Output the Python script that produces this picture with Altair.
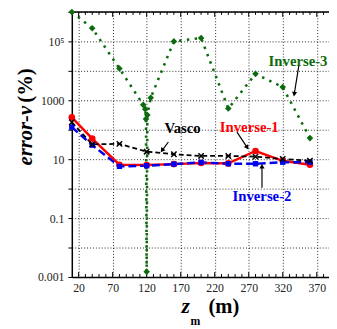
import altair as alt
import pandas as pd

# ---- data ----
z_m = [10, 40, 80, 120, 160, 200, 240, 280, 320, 360]
inverse_1 = [263, 50, 6.5, 6.3, 6.8, 7.4, 7.2, 19, 8.8, 6.5]
inverse_2 = [122, 30, 5.7, 6.0, 6.8, 7.8, 7.0, 7.0, 7.9, 7.9]
vasco = [179, 32, 33, 18, 14.7, 12.9, 12.9, 12.2, 10.2, 8.9]
inverse_3_z = [10, 40, 80, 115, 118, 119, 120, 121, 126, 160, 200, 240, 280, 320, 360]
inverse_3 = [1e6, 2.8e5, 1.2e4, 700, 500, 233, 0.0015, 316, 1220, 1.0e5, 1.3e5, 525, 7900, 2800, 52]

x_ticks = [20, 70, 120, 170, 220, 270, 320, 370]
y_ticks = [0.001, 0.01, 0.1, 1, 10, 100, 1000, 10000, 100000, 1000000]

label_names = ["Vasco", "Inverse-1", "Inverse-3", "Inverse-2"]
label_x = [172.8, 270.8, 342.5, 289.5]
label_y = [112, 126, 21544, 0.541]
label_colors = ["#000000", "#ff0000", "#0d6b0d", "#0000ee"]

arrow_x1 = [151.9, 252.8, 343.6, 289.5]
arrow_y1 = [38.3, 82.5, 14680, 1.08]
arrow_x2 = [143.3, 267.2, 337.1, 289.5]
arrow_y2 = [20.7, 26.1, 1711, 5.41]
arrow_angle = [217, 146, 189, 0]

RED, BLUE, BLACK, GREEN = "#ff0000", "#0000ee", "#000000", "#0d6b0d"
FONT = "Liberation Serif, Times New Roman, serif"

W, H = 262, 270
xscale = alt.Scale(domain=[10, 388], nice=False, zero=False)
yscale = alt.Scale(type="log", domain=[0.001, 1e6], nice=False)

y_label_expr = ("datum.value == 100000 ? '10\u2075' : (datum.value == 1000 ? '1000' : "
                "(datum.value == 10 ? '10' : (datum.value == 0.1 ? '0.1' : "
                "(datum.value == 0.001 ? '0.001' : ''))))")

xaxis = alt.Axis(values=x_ticks, title=None, grid=True, gridDash=[1, 2], gridColor="#000",
                 gridOpacity=0.85, gridWidth=1, tickSize=0, labelPadding=6, labelFont=FONT,
                 labelFontSize=12, labelColor="#222", domainColor="#000", domainWidth=1.5,
                 labelFlush=False)
yaxis = alt.Axis(values=y_ticks, title=None, grid=True, gridDash=[1, 2], gridColor="#000",
                 gridOpacity=0.85, gridWidth=1, tickSize=4, tickColor="#000", tickWidth=1,
                 labelPadding=4, labelFont=FONT, labelFontSize=12, labelColor="#222",
                 domainColor="#000", domainWidth=1.5, labelExpr=y_label_expr)


def X(f):
    return alt.X(f, type="quantitative", scale=xscale, axis=xaxis)


def Y(f):
    return alt.Y(f, type="quantitative", scale=yscale, axis=yaxis)


def series(xs, ys, color, width, dash, shape, size, filled=True, stroke_w=1):
    df = pd.DataFrame({"z": xs, "v": ys, "i": list(range(len(xs)))})
    kw = dict(color=color, strokeWidth=width)
    if dash:
        kw["strokeDash"] = dash
    line = alt.Chart(df).mark_line(**kw).encode(x=X("z"), y=Y("v"), order="i:Q")
    pts = alt.Chart(df).mark_point(shape=shape, size=size, color=color, filled=filled,
                                   opacity=1, strokeWidth=stroke_w).encode(x=X("z"), y=Y("v"))
    return line, pts


g_line, g_pts = series(inverse_3_z, inverse_3, GREEN, 2.6, [2.5, 5.5], "diamond", 45)
r_line, r_pts = series(z_m, inverse_1, RED, 2.5, None, "circle", 45)
b_line, b_pts = series(z_m, inverse_2, BLUE, 2.5, [8, 4], "square", 30)
k_line, k_pts = series(z_m, vasco, BLACK, 1.8, [5, 3], "M-1,-1L1,1M-1,1L1,-1", 30,
                       filled=False, stroke_w=1.5)

# inward minor/major ticks on bottom and top
tick_rows = []
for v in range(20, 390, 10):
    major = (v - 20) % 50 == 0
    f = 10 ** ((5 if major else 3) / 30)
    tick_rows.append({"t": v, "a": 0.001, "b": 0.001 * f})
    tick_rows.append({"t": v, "a": 1e6, "b": 1e6 / f})
ticks = alt.Chart(pd.DataFrame(tick_rows)).mark_rule(color="#000", strokeWidth=1).encode(
    x=X("t"), y=Y("a"), y2="b")

top_frame = alt.Chart(pd.DataFrame({"f": [1e6]})).mark_rule(color="#000", strokeWidth=1.5).encode(
    y=Y("f"))

arrows_df = pd.DataFrame({"x1": arrow_x1, "y1": arrow_y1, "x2": arrow_x2, "y2": arrow_y2,
                          "ang": arrow_angle})
shafts = alt.Chart(arrows_df).mark_rule(color="#000", strokeWidth=1.2).encode(
    x=X("x1"), y=Y("y1"), x2="x2", y2="y2")
heads = alt.Chart(arrows_df).mark_point(shape="triangle", filled=True, size=28, color="#000",
                                        opacity=1).encode(
    x=X("x2"), y=Y("y2"), angle=alt.Angle("ang:Q", scale=None))

labels_df = pd.DataFrame({"x": label_x, "y": label_y, "t": label_names, "c": label_colors})
labels = alt.Chart(labels_df).mark_text(font=FONT, fontWeight="bold", fontSize=15,
                                        baseline="middle", align="center").encode(
    x=X("x"), y=Y("y"), text="t:N", color=alt.Color("c:N", scale=None))

# axis titles built from text pieces (subscript / mixed styles)
one = pd.DataFrame({"k": [0]})
yt1 = alt.Chart(one).mark_text(text="error-v", font=FONT, fontWeight="bold", fontStyle="italic",
                               fontSize=21, angle=270, align="center", baseline="middle").encode(
    x=alt.value(-47), y=alt.value(126))
yt2 = alt.Chart(one).mark_text(text="(%)", font=FONT, fontWeight="bold", fontSize=21, angle=270,
                               align="center", baseline="middle").encode(
    x=alt.value(-47), y=alt.value(75))
xt1 = alt.Chart(one).mark_text(text="z", font=FONT, fontWeight="bold", fontStyle="italic",
                               fontSize=22, align="center", baseline="middle").encode(
    x=alt.value(116), y=alt.value(300))
xt2 = alt.Chart(one).mark_text(text="m", font=FONT, fontWeight="bold", fontSize=12,
                               align="center", baseline="middle").encode(
    x=alt.value(126), y=alt.value(315))
xt3 = alt.Chart(one).mark_text(text="(m)", font=FONT, fontWeight="bold", fontSize=21,
                               align="center", baseline="middle").encode(
    x=alt.value(155), y=alt.value(301))

chart = alt.layer(
    g_line, ticks, top_frame, r_line, b_line, k_line,
    g_pts, r_pts, b_pts, k_pts,
    shafts, heads, labels, yt1, yt2, xt1, xt2, xt3,
).properties(
    width=W, height=H, autosize="none",
    padding={"left": 65, "top": 1, "right": 0, "bottom": 51},
).configure_view(stroke=None)

chart.save("out.html", embed_options={"renderer": "svg", "actions": False})
